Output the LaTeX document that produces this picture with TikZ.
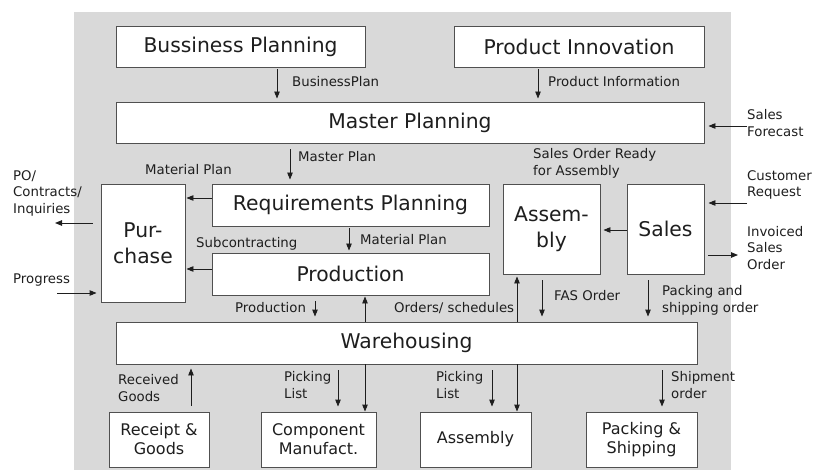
\documentclass[tikz,border=0pt]{standalone}
\usepackage{fontspec}
\setmainfont{DejaVu Sans}
\usetikzlibrary{arrows.meta}
\definecolor{bgc}{HTML}{D9D9D9}
\definecolor{boxline}{HTML}{505050}
\definecolor{txt}{HTML}{1E1E1E}
\definecolor{arrcol}{HTML}{1E1E1E}
\tikzset{
  box/.style={draw=boxline, fill=white, line width=0.9pt, inner sep=0pt, text=txt,
    font=\fontsize{20.3}{26}\selectfont, align=center},
  sbox/.style={box, font=\fontsize{16}{19}\selectfont},
  lbl/.style={anchor=west, inner sep=0pt, text=txt, font=\fontsize{13.3}{16.5}\selectfont, align=left},
  arr/.style={-{Triangle[length=7pt,width=5.5pt]}, line width=0.9pt, draw=arrcol},
}
\begin{document}
\begin{tikzpicture}[x=1pt,y=-1pt]
\useasboundingbox (0,0) rectangle (813,470);
\fill[bgc] (74,12) rectangle (731,470);
% boxes
\node[box, minimum width=249pt, minimum height=41pt] (bp) at (240.5,46.5) {Bussiness Planning};
\node[box, minimum width=250pt, minimum height=41pt] (pi) at (579,46.5) {Product Innovation};
\node[box, minimum width=588pt, minimum height=41pt] (mp) at (410,122.5) {Master Planning};
\node[box, minimum width=84pt, minimum height=118pt] (pur) at (143,243) {Pur-\\chase};
\node[box, minimum width=277pt, minimum height=42pt] (rp) at (350.5,205) {Requirements Planning};
\node[box, minimum width=97pt, minimum height=90pt] (asm) at (551.5,229) {Assem-\\bly};
\node[box, minimum width=77pt, minimum height=90pt] (sales) at (665.5,229) {Sales};
\node[box, minimum width=277pt, minimum height=42pt] (prod) at (350.5,274) {Production};
\node[box, minimum width=581pt, minimum height=42pt] (wh) at (406.5,343) {Warehousing};
\node[sbox, minimum width=100pt, minimum height=55pt] (rg) at (159,439.5) {Receipt \&\\Goods};
\node[sbox, minimum width=115pt, minimum height=55pt] (cm) at (318.5,439.5) {Component\\Manufact.};
\node[sbox, minimum width=111pt, minimum height=55pt] (asb) at (475.5,439.5) {Assembly};
\node[sbox, minimum width=111pt, minimum height=55pt] (ps) at (641.5,439.5) {Packing \&\\Shipping};
% helper coordinates
\coordinate (a1) at (277,0);
\coordinate (a2) at (538,0);
\coordinate (a4) at (290,0);
\coordinate (a10) at (349,0);
\coordinate (a13) at (315,0);
\coordinate (a14) at (365,0);
\coordinate (a15) at (517,0);
\coordinate (a16) at (542,0);
\coordinate (a17) at (648,0);
\coordinate (a18) at (191,0);
\coordinate (a19) at (338,0);
\coordinate (a21) at (492,0);
\coordinate (a23) at (662,0);
\coordinate (y5) at (0,198);
\coordinate (y8) at (0,230);
\coordinate (y11) at (0,269);
\coordinate (sf) at (747,126);
\coordinate (cr) at (747,203);
\coordinate (po) at (55,223);
\coordinate (iso) at (738,255);
\coordinate (pg) at (57,293);
% arrows
\draw[arr, shorten <=2pt, shorten >=3pt] (bp.south -| a1) -- (mp.north -| a1);
\draw[arr, shorten <=2pt, shorten >=3pt] (pi.south -| a2) -- (mp.north -| a2);
\draw[arr, shorten >=4pt] (sf) -- (sf -| mp.east);
\draw[arr, shorten <=6pt, shorten >=4pt] (mp.south -| a4) -- (rp.north -| a4);
\draw[arr, shorten >=1pt] (rp.west |- y5) -- (pur.east |- y5);
\draw[arr, shorten <=8pt] (pur.west |- po) -- (po);
\draw[arr, shorten >=4pt] (cr) -- (cr -| sales.east);
\draw[arr, shorten >=3pt] (sales.west |- y8) -- (asm.east |- y8);
\draw[arr, shorten <=4pt] (sales.east |- iso) -- (iso);
\draw[arr, shorten <=2pt, shorten >=2pt] (rp.south -| a10) -- (prod.north -| a10);
\draw[arr, shorten >=1pt] (prod.west |- y11) -- (pur.east |- y11);
\draw[arr, shorten >=4pt] (pg) -- (pg -| pur.west);
\draw[arr, shorten <=6pt, shorten >=5pt] (prod.south -| a13) -- (wh.north -| a13);
\draw[arr, shorten >=1pt] (wh.north -| a14) -- (prod.south -| a14);
\draw[arr, shorten >=2pt] (wh.north -| a15) -- (asm.south -| a15);
\draw[arr, shorten <=6pt, shorten >=5pt] (asm.south -| a16) -- (wh.north -| a16);
\draw[arr, shorten <=6pt, shorten >=5pt] (sales.south -| a17) -- (wh.north -| a17);
\draw[arr, shorten <=6pt, shorten >=4pt] (rg.north -| a18) -- (wh.south -| a18);
\draw[arr, shorten <=6pt, shorten >=5pt] (wh.south -| a19) -- (cm.north -| a19);
\draw[arr] (wh.south -| a14) -- (cm.north -| a14);
\draw[arr, shorten <=6pt, shorten >=5pt] (wh.south -| a21) -- (asb.north -| a21);
\draw[arr] (wh.south -| a15) -- (asb.north -| a15);
\draw[arr, shorten <=6pt, shorten >=5pt] (wh.south -| a23) -- (ps.north -| a23);
% labels
\node[lbl] (l1) at (292,82) {BusinessPlan};
\node[lbl] (l2) at (548,82) {Product Information};
\node[lbl] (l3) at (747,123) {Sales\\Forecast};
\node[lbl] (l4) at (298,157) {Master Plan};
\node[lbl] (l5) at (145,170) {Material Plan};
\node[lbl] (l6) at (13,193) {PO/\\Contracts/\\Inquiries};
\node[lbl] (l7) at (533,163.5) {Sales Order Ready\\for Assembly};
\node[lbl] (l8) at (747,185) {Customer\\Request};
\node[lbl] (l9) at (747,248) {Invoiced\\Sales\\Order};
\node[lbl] (l10) at (360,240) {Material Plan};
\node[lbl] (l11) at (196,244) {Subcontracting};
\node[lbl] (l12) at (13,280) {Progress};
\node[lbl] (l13) at (235,308) {Production};
\node[lbl] (l14) at (394,308) {Orders/ schedules};
\node[lbl] (l15) at (554,296) {FAS Order};
\node[lbl] (l16) at (662,300.5) {Packing and\\shipping order};
\node[lbl] (l17) at (118,388) {Received\\Goods};
\node[lbl] (l18) at (284,385) {Picking\\List};
\node[lbl] (l19) at (436,385) {Picking\\List};
\node[lbl] (l20) at (671,385) {Shipment\\order};
\end{tikzpicture}
\end{document}
